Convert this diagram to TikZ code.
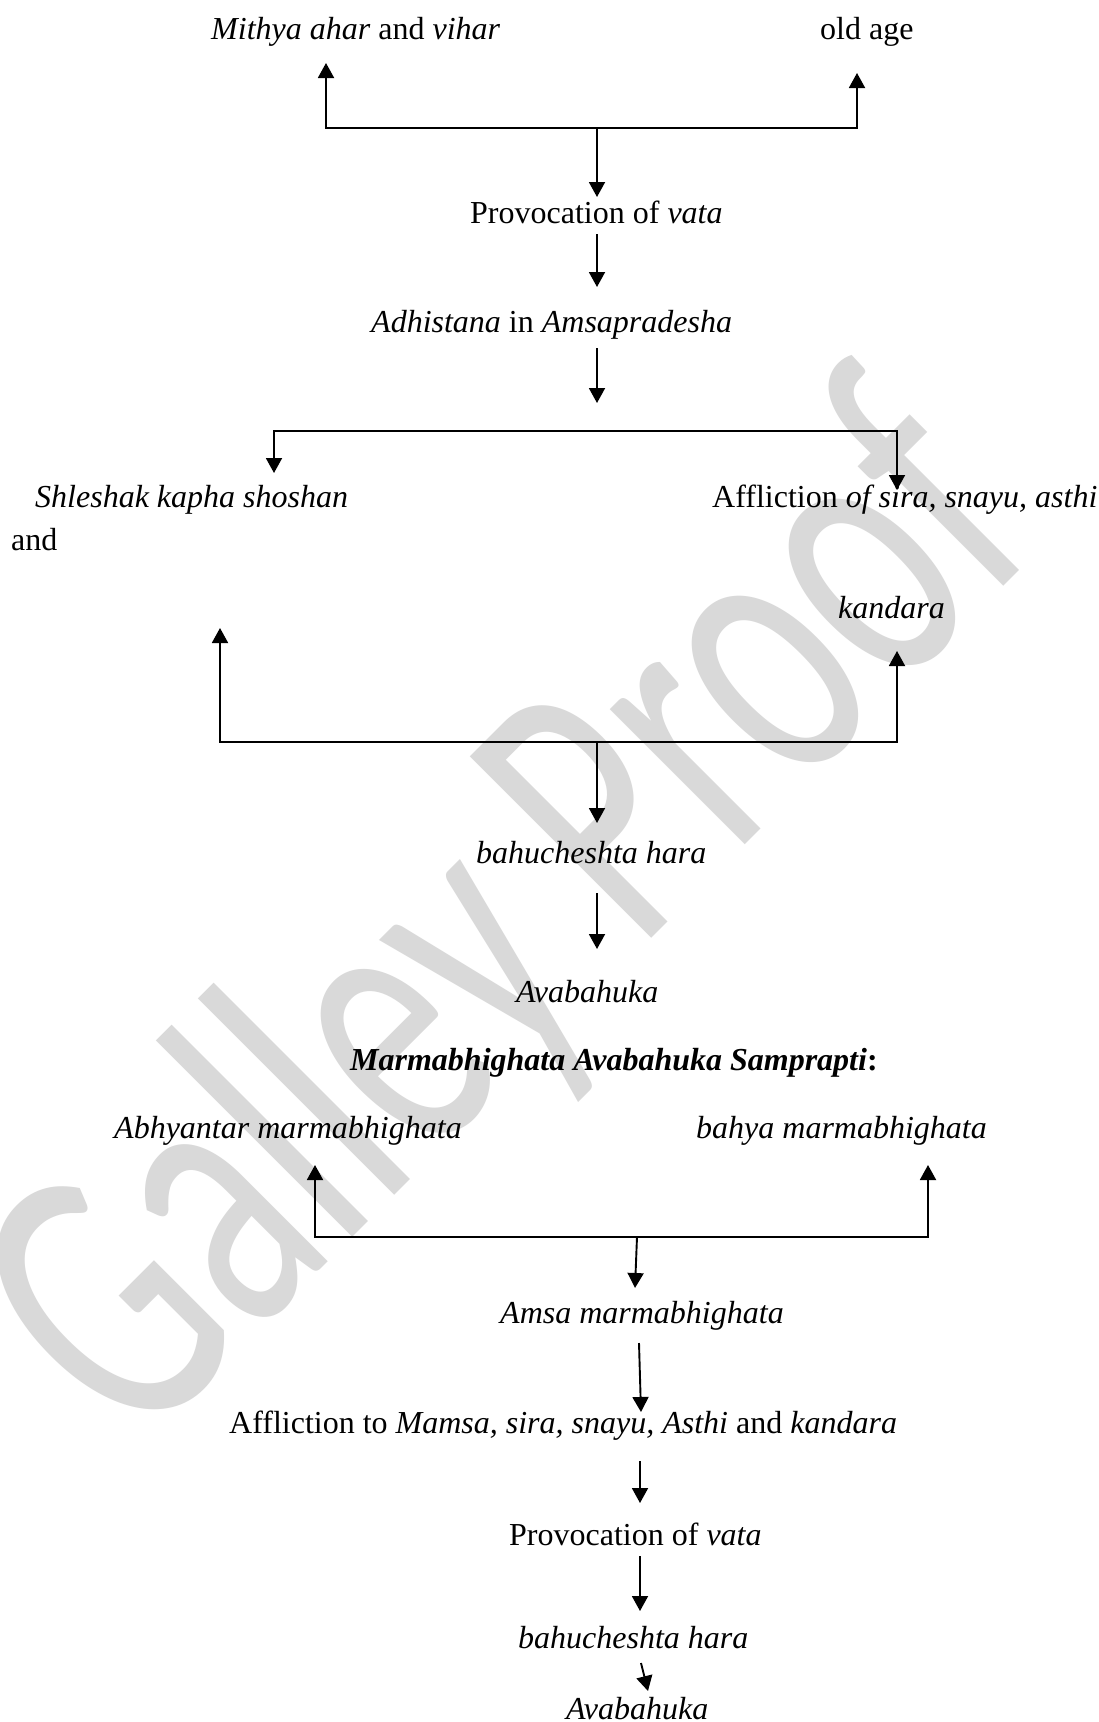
\documentclass[tikz,border=0pt]{standalone}
\usepackage{graphicx}
\usepackage{fontspec}
\setmainfont{Liberation Serif}
\newfontfamily\wmfont{Carlito}
\usetikzlibrary{arrows.meta}
\definecolor{wmgray}{RGB}{217,217,217}
\tikzset{
  txt/.style={inner sep=0pt, anchor=base west, font=\fontsize{32}{38}\selectfont},
  ln/.style={line width=1.9pt, line join=miter},
  tipA/.tip={Triangle[width=16pt,length=15pt]},
  arr/.style={ln, -tipA},
  arrboth/.style={ln, tipA-tipA},
  wmark/.style={inner sep=0pt, anchor=base west, text=wmgray, font=\wmfont\fontsize{400}{400}\selectfont}
}
\begin{document}
\begin{tikzpicture}[x=1pt,y=-1pt]
\useasboundingbox (0,0) rectangle (1099,1722);
\fill[white] (0,0) rectangle (1099,1722);
% watermark
\node[wmark, rotate=45] (wm) at (135,1455) {\scalebox{0.65}[1]{Galley Proof}};

% texts
\node[txt] (mithya) at (211,39) {\textit{Mithya ahar} and \textit{vihar}};
\node[txt] (oldage) at (820,39) {old age};
\node[txt] (prov1) at (470,223) {Provocation of \textit{vata}};
\node[txt] (adh) at (371,332) {\textit{Adhistana} in \textit{Amsapradesha}};
\node[txt] (shl) at (35,507) {\textit{Shleshak kapha shoshan}};
\node[txt] (affl1) at (712,507) {Affliction \textit{of sira, snayu, asthi}};
\node[txt] (and) at (11,550) {and};
\node[txt] (kand) at (838,618) {\textit{kandara}};
\node[txt] (bahu1) at (476,863) {\textit{bahucheshta hara}};
\node[txt] (avab1) at (516,1002) {\textit{Avabahuka}};
\node[txt] (title) at (350,1070) {\textbf{\textit{Marmabhighata Avabahuka Samprapti}:}};
\node[txt] (abhy) at (114,1138) {\textit{Abhyantar marmabhighata}};
\node[txt] (bahya) at (696,1138) {\textit{bahya marmabhighata}};
\node[txt] (amsa) at (500,1323) {\textit{Amsa marmabhighata}};
\node[txt] (affl2) at (229,1433) {Affliction to \textit{Mamsa, sira, snayu, Asthi} and \textit{kandara}};
\node[txt] (prov2) at (509,1545) {Provocation of \textit{vata}};
\node[txt] (bahu2) at (518,1648) {\textit{bahucheshta hara}};
\node[txt] (avab2) at (566,1719) {\textit{Avabahuka}};

% junction and tip coordinates
\coordinate (a1) at (326,63);  \coordinate (j1l) at (326,128);
\coordinate (j1r) at (857,128); \coordinate (a2) at (857,73);
\coordinate (j1m) at (597,128); \coordinate (a3) at (597,197);
\coordinate (s4) at (597,234);  \coordinate (a4) at (597,287);
\coordinate (s5) at (597,348);  \coordinate (a5) at (597,403);
\coordinate (a6) at (274,473);  \coordinate (j2l) at (274,431);
\coordinate (j2r) at (897,431); \coordinate (a7) at (897,490);
\coordinate (a8) at (220,628);  \coordinate (j3l) at (220,742);
\coordinate (j3r) at (897,742); \coordinate (a9) at (897,651);
\coordinate (j3m) at (597,742); \coordinate (a10) at (597,823);
\coordinate (s11) at (597,893); \coordinate (a11) at (597,949);
\coordinate (a12) at (315,1165); \coordinate (j4l) at (315,1237);
\coordinate (j4r) at (928,1237); \coordinate (a13) at (928,1165);
\coordinate (j4m) at (637,1237); \coordinate (a14) at (635,1288);
\coordinate (s15) at (639,1343); \coordinate (a15) at (641,1412);
\coordinate (s16) at (640,1461); \coordinate (a16) at (640,1503);
\coordinate (s17) at (640,1556); \coordinate (a17) at (640,1611);
\coordinate (s18) at (641,1663); \coordinate (a18) at (648,1691);

% connectors
\draw[arrboth] (a1) -- (j1l) -- (j1r) -- (a2);
\draw[arr] (j1m) -- (a3);
\draw[arr] (s4) -- (a4);
\draw[arr] (s5) -- (a5);
\draw[arrboth] (a6) -- (j2l) -- (j2r) -- (a7);
\draw[arrboth] (a8) -- (j3l) -- (j3r) -- (a9);
\draw[arr] (j3m) -- (a10);
\draw[arr] (s11) -- (a11);
\draw[arrboth] (a12) -- (j4l) -- (j4r) -- (a13);
\draw[arr] (j4m) -- (a14);
\draw[arr] (s15) -- (a15);
\draw[arr] (s16) -- (a16);
\draw[arr] (s17) -- (a17);
\draw[arr] (s18) -- (a18);
\end{tikzpicture}
\end{document}
